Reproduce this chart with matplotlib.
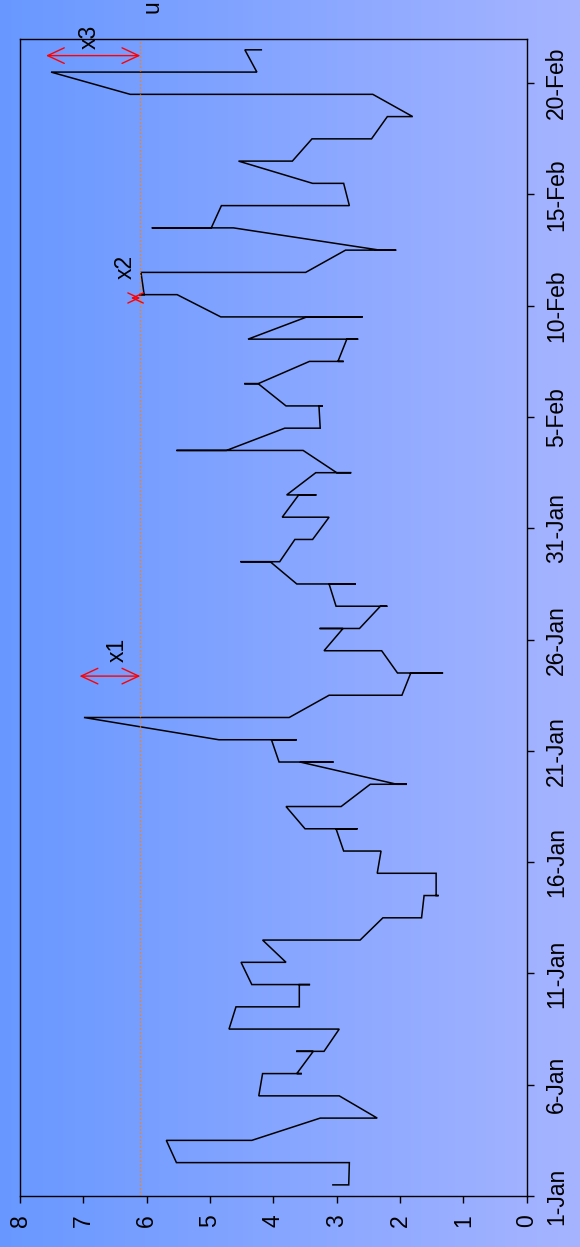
import numpy as np
import pandas as pd
import matplotlib
matplotlib.use("Agg")
import matplotlib.pyplot as plt
import matplotlib.dates as mdates
from matplotlib.colors import LinearSegmentedColormap

plt.rcParams["font.family"] = ["Liberation Sans", "DejaVu Sans"]

# Readings per day, in the order they were taken (all plotted at midday)
start_date = pd.Timestamp("2007-01-01")
daily_readings = [
    [3.06, 2.81], [2.80, 5.53], [5.69, 4.34], [3.26, 2.36], [2.96, 4.23],
    [4.17, 3.55, 3.63], [3.37, 3.64, 3.20], [2.96, 4.70], [4.59, 3.59],
    [3.59, 3.42, 4.34], [4.51, 3.80], [4.17, 2.63], [2.27, 1.66],
    [1.62, 1.39, 1.43], [1.43, 2.36], [2.30, 2.89], [3.01, 2.67, 3.50],
    [3.80, 2.93], [2.47, 1.89, 2.05], [3.58, 3.05, 3.91], [4.03, 3.63, 4.86],
    [6.99, 3.75], [3.12, 1.97], [1.83, 1.32, 2.04], [2.29, 3.20],
    [2.90, 3.27, 2.64], [2.31, 2.20, 3.01], [3.12, 2.70, 3.63],
    [4.05, 4.52, 3.90], [3.66, 3.38], [3.12, 3.86], [3.60, 3.32, 3.79],
    [3.33, 2.77, 3.00], [3.53, 5.53, 4.74], [3.82, 3.26], [3.28, 3.22, 3.80],
    [4.24, 4.46, 4.24], [3.43, 2.89, 2.98], [2.84, 2.66, 4.40],
    [3.47, 2.59, 4.83], [5.52, 6.12, 6.04], [6.09, 3.49], [2.86, 2.06, 2.32],
    [4.63, 5.92, 4.98], [4.82, 2.80], [2.89, 3.38], [4.55, 3.70],
    [3.39, 2.45], [2.20, 1.80], [2.43, 6.26], [7.51, 4.26], [4.45, 4.19],
]

threshold = 6.1
threshold_label = "u"

# Exceedance markers: label, peak value, day offset of the arrow
exceed_labels = ["x1", "x2", "x3"]
exceed_peaks = [7.06, 6.25, 7.59]
exceed_days = [23.36, 40.35, 51.24]

tick_labels = ["1-Jan", "6-Jan", "11-Jan", "16-Jan", "21-Jan", "26-Jan",
               "31-Jan", "5-Feb", "10-Feb", "15-Feb", "20-Feb"]
value_ticks = [0, 1, 2, 3, 4, 5, 6, 7, 8]

FS = 16.5


def day_num(offset_days):
    return mdates.date2num(start_date + pd.Timedelta(days=offset_days))


fig = plt.figure(figsize=(5.8, 12.47), dpi=100)

# background gradient across the whole figure
bg = fig.add_axes([0, 0, 1, 1], zorder=-10)
cmap = LinearSegmentedColormap.from_list("bg", ["#6898ff", "#a6b4ff"])
bg.imshow(np.linspace(0, 1, 256)[None, :], aspect="auto", cmap=cmap,
          extent=[0, 1, 0, 1])
bg.set_axis_off()

ax = fig.add_axes([20 / 580, 1 - 1196 / 1247, (526.7 - 20) / 580,
                   (1196 - 38.7) / 1247])
ax.set_facecolor("none")

xs, ys = [], []
for i, day in enumerate(daily_readings):
    t = day_num(i + 0.5)
    for v in day:
        xs.append(v)
        ys.append(t)
ax.plot(xs, ys, color="black", lw=1.1, solid_joinstyle="miter")

ax.set_xlim(8, 0)
ax.set_ylim(day_num(0), day_num(52))

# threshold line
ax.axvline(threshold, color="#ff7f00", lw=1.0, ls=(0, (1, 1.5)))
ax.text(threshold, day_num(53.45), threshold_label, rotation=90,
        ha="left", va="center", fontsize=FS, clip_on=False)

# exceedance arrows and labels
label_pos = [(6.47, 24.56), (6.34, 41.74), (6.91, 52.09)]
head_scale = [20, 13, 20]
for lab, peak, d, (lx, ld), hs in zip(exceed_labels, exceed_peaks,
                                      exceed_days, label_pos, head_scale):
    ax.annotate("", xy=(peak, day_num(d)), xytext=(threshold, day_num(d)),
                arrowprops=dict(arrowstyle="<->,head_length=0.6,head_width=0.28",
                                color="red", lw=1.0, shrinkA=0, shrinkB=0,
                                mutation_scale=hs),
                annotation_clip=False)
    ax.text(lx, day_num(ld), lab, rotation=90, ha="center", va="center",
            fontsize=FS, clip_on=False)

# axes styling
ax.set_xticks(value_ticks)
ax.set_xticklabels([str(v) for v in value_ticks], rotation=90, fontsize=FS)
tick_pos = [day_num(5 * k) for k in range(len(tick_labels))]
ax.yaxis.tick_right()
ax.set_yticks(tick_pos)
ax.set_yticklabels(tick_labels, rotation=90, fontsize=FS, va="center")
ax.tick_params(axis="both", direction="out", length=5, width=1.0, pad=8,
               colors="black")
for sp in ax.spines.values():
    sp.set_linewidth(1.0)
    sp.set_color("black")

fig.savefig("out.png", dpi=100)
